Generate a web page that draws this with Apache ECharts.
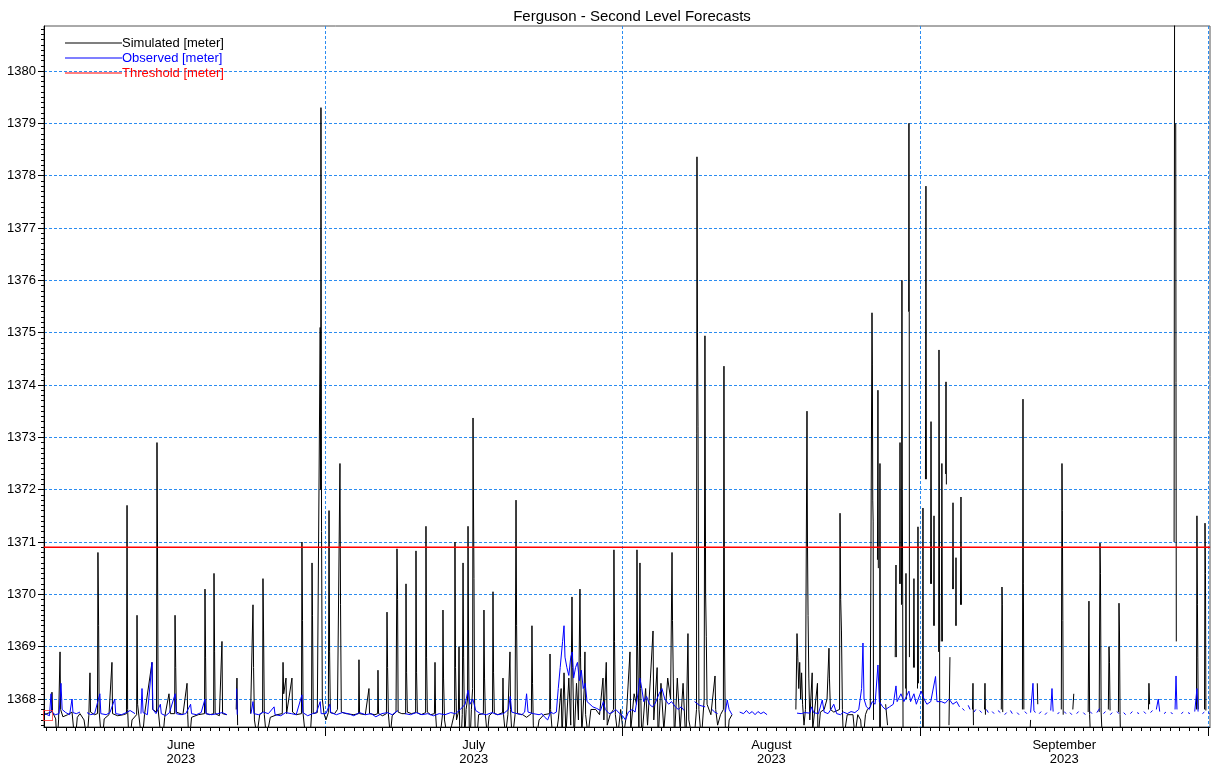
<!DOCTYPE html>
<html>
<head>
<meta charset="utf-8">
<script src="https://cdn.jsdelivr.net/npm/echarts@6/dist/echarts.min.js"></script>
<style>
  html, body { margin: 0; padding: 0; background: #ffffff; }
  #chart { width: 1213px; height: 769px; }
</style>
</head>
<body>
<div id="chart"></div>
<script>
// Time runs in days since 2023-06-01 00:00; levels are in metres.
const chartTitle = 'Ferguson - Second Level Forecasts';
const monthNames = ['June', 'July', 'August', 'September'];
const monthYear = '2023';
const monthStartDays = [0, 30, 61, 92, 122];
const monthMidDays = [15, 45.5, 76.5, 107];
const levelTicks = [1368, 1369, 1370, 1371, 1372, 1373, 1374, 1375, 1376, 1377, 1378, 1379, 1380];
const thresholdLevel = 1370.9;
const thresholdSpan = [0.7, 122.2];

// Simulated second level (forecast traces), null = no forecast
const simulated = [
  [0.55,1367.68],[1.00,1367.72],[1.50,1367.75],[1.56,1368.13],[1.62,1367.75],[1.95,1367.62],[2.08,1367.10],[2.25,1367.60],
  [2.40,1368.90],[2.46,1367.80],[2.70,1367.66],[3.20,1367.70],[3.65,1367.75],[3.96,1367.15],[4.20,1367.65],[4.48,1367.72],
  [4.90,1367.60],[5.21,1367.20],[5.40,1367.68],[5.52,1368.50],[5.58,1367.75],[6.00,1367.70],[6.30,1367.72],[6.35,1370.80],
  [6.42,1369.40],[6.48,1367.75],[6.77,1367.10],[7.00,1367.62],[7.50,1367.70],[7.81,1368.70],[7.87,1367.72],[8.40,1367.68],
  [9.00,1367.70],[9.32,1367.72],[9.38,1371.70],[9.44,1367.80],[9.60,1367.10],[9.90,1367.60],[10.38,1367.70],[10.42,1369.60],
  [10.48,1367.90],[10.94,1367.15],[11.20,1367.70],[11.98,1368.70],[12.05,1367.80],[12.45,1367.75],[12.50,1372.90],[12.55,1371.00],
  [12.62,1367.80],[13.02,1367.05],[13.30,1367.65],[13.75,1368.10],[13.90,1367.72],[14.34,1367.72],[14.38,1369.60],[14.45,1368.60],
  [14.52,1367.75],[15.20,1367.70],[15.63,1368.30],[15.70,1367.70],[15.83,1367.10],[16.10,1367.65],[16.80,1367.70],[17.45,1367.72],
  [17.50,1370.10],[17.56,1368.80],[17.62,1367.72],[18.00,1367.70],[18.40,1367.72],[18.44,1370.40],[18.50,1368.90],[18.56,1367.72],
  [19.00,1367.68],[19.27,1369.10],[19.33,1367.72],[19.75,1367.70],[19.80,null],
  [20.75,1367.80],[20.83,1368.40],[20.90,1367.50],[20.95,null],
  [22.25,1367.72],[22.50,1369.80],[22.56,1368.60],[22.65,1367.60],[22.90,1367.30],[23.20,1367.70],[23.50,1367.75],[23.54,1370.30],
  [23.60,1369.30],[23.68,1367.70],[23.90,1367.25],[24.30,1367.65],[25.00,1367.70],[25.55,1367.72],[25.63,1368.70],[25.70,1368.10],
  [25.94,1368.40],[26.00,1367.72],[26.56,1368.40],[26.62,1367.75],[27.00,1367.70],[27.55,1367.72],[27.60,1371.00],[27.66,1369.50],
  [27.72,1367.72],[27.95,1367.30],[28.20,1366.90],[28.50,1367.40],[28.60,1367.72],[28.65,1370.60],[28.70,1369.60],[28.78,1367.72],
  [29.20,1367.74],[29.40,1367.75],[29.50,1375.10],[29.55,1372.00],[29.58,1379.30],[29.64,1371.20],[29.72,1368.00],[29.90,1367.72],
  [30.10,1367.60],[30.35,1367.74],[30.42,1371.60],[30.48,1368.90],[30.56,1367.74],[31.00,1367.72],[31.30,1367.80],[31.56,1372.50],
  [31.62,1369.80],[31.70,1367.75],[32.20,1367.72],[33.00,1367.70],[33.50,1367.72],[33.54,1368.75],[33.60,1367.72],[34.20,1367.70],
  [34.58,1368.20],[34.64,1367.72],[35.20,1367.70],[35.48,1367.72],[35.52,1368.55],[35.58,1367.72],[36.00,1367.68],[36.40,1367.72],
  [36.46,1369.66],[36.52,1368.60],[36.60,1367.72],[36.80,1367.30],[37.00,1367.68],[37.40,1367.75],[37.50,1370.87],[37.56,1369.90],
  [37.62,1367.75],[38.00,1367.72],[38.40,1367.72],[38.44,1370.20],[38.50,1368.50],[38.58,1367.75],[39.00,1367.72],[39.44,1367.74],
  [39.48,1370.83],[39.54,1368.50],[39.62,1367.74],[40.00,1367.70],[40.48,1367.74],[40.52,1371.30],[40.58,1368.80],[40.66,1367.75],
  [41.00,1367.70],[41.40,1367.72],[41.46,1368.70],[41.52,1367.72],[41.70,1367.20],[42.00,1367.30],[42.24,1367.70],[42.29,1369.70],
  [42.35,1368.40],[42.45,1367.60],[42.80,1367.20],[43.20,1367.50],[43.50,1367.74],[43.54,1371.00],[43.60,1368.60],[43.70,1367.60],
  [43.90,1367.75],[43.96,1369.00],[44.02,1367.50],[44.10,1366.90],[44.30,1367.70],[44.38,1370.60],[44.44,1368.80],[44.55,1367.20],
  [44.70,1367.80],[44.85,1368.00],[44.90,1371.30],[44.96,1369.00],[45.05,1366.90],[45.25,1367.80],[45.38,1368.20],[45.42,1373.37],
  [45.46,1372.00],[45.52,1370.30],[45.58,1368.00],[45.70,1366.90],[46.00,1367.70],[46.50,1367.72],[46.56,1369.70],[46.62,1368.40],
  [46.70,1367.72],[46.90,1367.30],[47.10,1367.68],[47.45,1367.74],[47.50,1370.05],[47.56,1368.50],[47.64,1367.72],[48.00,1367.70],
  [48.50,1367.74],[48.54,1368.40],[48.60,1367.70],[48.80,1367.30],[49.05,1367.70],[49.27,1368.90],[49.33,1367.80],[49.50,1367.20],
  [49.80,1367.70],[49.90,1371.80],[49.96,1369.40],[50.05,1367.72],[50.60,1367.70],[51.00,1367.65],[51.50,1367.72],[51.56,1369.40],
  [51.62,1368.30],[51.70,1367.50],[51.90,1367.10],[52.30,1367.60],[52.80,1367.70],[53.40,1367.72],[53.44,1368.86],[53.50,1367.80],
  [53.70,1367.30],[54.00,1367.20],[54.30,1367.60],[54.60,1368.20],[54.70,1367.20],[54.90,1368.50],[55.10,1367.30],[55.40,1368.40],
  [55.60,1367.50],[55.73,1369.95],[55.80,1368.60],[55.95,1367.20],[56.20,1368.30],[56.40,1367.60],[56.56,1370.10],[56.62,1368.80],
  [56.75,1367.30],[57.00,1368.20],[57.08,1368.90],[57.15,1367.70],[57.40,1367.30],[57.70,1367.80],[58.20,1367.80],[58.60,1367.70],
  [58.96,1368.40],[59.05,1367.60],[59.30,1368.70],[59.40,1367.50],[59.70,1367.70],[60.05,1367.80],[60.10,1370.85],[60.16,1369.10],
  [60.25,1367.70],[60.50,1367.30],[60.80,1367.80],[61.10,1367.30],[61.40,1367.70],[61.77,1368.90],[61.85,1367.40],[62.20,1368.10],
  [62.45,1367.90],[62.50,1370.85],[62.56,1369.00],[62.70,1367.40],[62.81,1370.60],[62.88,1368.20],[63.00,1367.20],[63.40,1368.20],
  [63.60,1367.50],[63.90,1368.40],[64.17,1369.30],[64.25,1367.60],[64.60,1368.60],[64.70,1367.20],[65.00,1368.30],[65.30,1367.40],
  [65.70,1368.40],[66.00,1368.00],[66.15,1370.80],[66.20,1369.50],[66.28,1368.40],[66.40,1367.20],[66.70,1368.40],[67.00,1367.40],
  [67.30,1368.30],[67.60,1367.10],[67.81,1369.25],[67.90,1367.60],[68.40,1367.10],[68.70,1367.80],[68.75,1378.36],[68.80,1375.00],
  [68.86,1373.20],[68.95,1367.80],[69.20,1367.20],[69.50,1368.00],[69.58,1374.94],[69.65,1370.00],[69.72,1369.20],[69.80,1367.90],
  [70.20,1367.70],[70.63,1368.44],[70.70,1367.80],[70.90,1367.50],[71.20,1367.70],[71.50,1367.80],[71.56,1374.36],[71.62,1369.00],
  [71.70,1367.50],[71.80,1366.90],[72.10,1367.60],[72.40,1367.70],[72.45,null],
  [79.05,1367.80],[79.17,1369.25],[79.25,1368.80],[79.35,1368.20],[79.45,1368.70],[79.55,1368.00],[79.65,1368.50],[79.75,1367.90],
  [79.90,1367.50],[80.05,1367.80],[80.21,1373.50],[80.26,1371.00],[80.32,1369.60],[80.40,1368.40],[80.50,1367.60],[80.75,1368.50],
  [80.80,1367.40],[81.30,1368.30],[81.35,1367.20],[81.60,1367.75],[82.00,1367.80],[82.30,1368.00],[82.50,1368.97],[82.55,1368.40],
  [82.65,1367.80],[83.00,1367.75],[83.60,1367.80],[83.65,1371.55],[83.72,1369.90],[83.80,1369.30],[83.90,1367.80],[84.00,1367.20],
  [84.40,1367.70],[85.00,1367.70],[85.20,1367.30],[85.50,1367.70],[85.80,1367.60],[86.00,1367.10],[86.30,1367.70],[86.50,1367.80],
  [86.80,1367.85],[86.98,1375.38],[87.02,1374.40],[87.06,1371.80],[87.10,1371.40],[87.14,1367.60],[87.20,null],
  [87.55,1370.66],[87.60,1373.90],[87.64,1370.50],[87.66,null],
  [87.78,1367.40],[87.81,1372.50],[87.86,1366.90],[87.90,null],
  [88.40,1367.90],[88.60,1367.50],[88.70,null],
  [89.40,1368.80],[89.48,1370.56],[89.52,1368.80],[89.55,null],
  [89.86,1370.20],[89.90,1372.90],[89.93,1370.20],[89.95,null],
  [90.05,1369.80],[90.10,1376.00],[90.14,1372.00],[90.18,1369.80],[90.22,1367.00],[90.30,null],
  [90.48,1368.20],[90.52,1370.40],[90.56,1368.00],[90.60,null],
  [90.80,1375.40],[90.83,1379.00],[90.86,1375.40],[90.88,1368.80],[90.92,null],
  [91.30,1368.60],[91.35,1370.30],[91.40,1368.60],[91.45,null],
  [91.72,1368.20],[91.77,1371.29],[91.82,1368.30],[91.86,null],
  [92.25,1367.00],[92.29,1371.65],[92.33,1367.00],[92.38,null],
  [92.55,1372.20],[92.60,1377.80],[92.65,1372.20],[92.70,null],
  [93.08,1370.20],[93.13,1373.30],[93.18,1370.20],[93.22,null],
  [93.40,1369.40],[93.44,1371.50],[93.48,1369.40],[93.52,null],
  [93.92,1368.90],[93.96,1374.67],[94.00,1372.00],[94.04,1367.00],[94.10,null],
  [94.20,1369.10],[94.26,1372.50],[94.32,1369.10],[94.38,null],
  [94.65,1372.30],[94.69,1374.06],[94.73,1372.10],[94.78,null],
  [95.00,1367.50],[95.10,1368.80],[95.15,null],
  [95.38,1370.10],[95.42,1371.75],[95.46,1370.10],[95.50,null],
  [95.70,1369.40],[95.73,1370.70],[95.76,1369.40],[95.80,null],
  [96.20,1369.80],[96.25,1371.86],[96.30,1369.80],[96.35,null],
  [97.45,1367.80],[97.50,1368.30],[97.55,1367.50],[97.60,null],
  [98.70,1367.80],[98.75,1368.30],[98.80,1367.70],[98.85,null],
  [100.45,1367.80],[100.52,1370.14],[100.56,1369.80],[100.60,1367.75],[100.65,null],
  [102.65,1367.80],[102.71,1373.73],[102.75,1370.20],[102.80,1367.80],[102.85,null],
  [103.40,1367.20],[103.50,1367.60],[103.55,null],
  [104.20,1368.30],[104.25,1367.90],[104.30,null],
  [106.70,1367.80],[106.77,1372.50],[106.81,1371.60],[106.86,1369.50],[106.90,1367.70],[106.95,null],
  [107.90,1367.80],[108.00,1368.10],[108.05,null],
  [109.50,1367.75],[109.58,1369.87],[109.65,1367.70],[109.80,1367.00],[109.90,null],
  [110.65,1367.75],[110.73,1370.98],[110.78,1370.40],[110.85,1367.75],[111.00,1367.10],[111.05,null],
  [111.60,1367.80],[111.67,1369.00],[111.72,1368.70],[111.78,1367.78],[111.85,null],
  [112.65,1367.75],[112.71,1369.83],[112.76,1369.30],[112.82,1367.70],[112.90,1367.00],[112.95,null],
  [115.78,1367.80],[115.83,1368.30],[115.90,1367.90],[115.95,null],
  [118.45,1371.00],[118.50,1381.50],[118.55,null],
  [118.62,1379.00],[118.68,1369.10],[118.72,null],
  [120.78,1367.80],[120.83,1371.50],[120.88,1369.80],[120.92,1368.80],[120.96,1367.80],[121.00,null],
  [121.62,1367.80],[121.67,1371.36],[121.72,1370.40],[121.76,1367.78],[121.80,null]
];

// Observed second level, null = missing record
const observed = [
  [0.83,1367.72],[1.30,1367.68],[1.46,1368.10],[1.55,1367.75],[1.90,1367.70],[2.30,1367.72],[2.50,1368.30],[2.62,1367.80],
  [3.00,1367.74],[3.40,1367.70],[3.65,1368.00],[3.75,1367.74],[4.10,1367.72],[4.48,1367.75],[4.55,null],
  [5.21,1367.74],[5.60,1367.70],[6.00,1367.72],[6.55,1368.10],[6.65,1367.72],[7.20,1367.70],[7.60,1367.74],[8.10,1368.00],
  [8.20,1367.72],[8.80,1367.70],[9.30,1367.74],[9.70,1367.78],[10.21,1367.72],[10.30,null],
  [10.83,1367.72],[10.94,1368.20],[11.05,1367.74],[11.50,1367.70],[11.98,1368.70],[12.08,1367.80],[12.40,1367.72],[12.85,1367.90],
  [12.95,1367.72],[13.40,1367.68],[13.80,1367.74],[14.40,1368.10],[14.50,1367.72],[15.00,1367.70],[15.50,1367.72],[16.00,1367.90],
  [16.10,1367.72],[16.60,1367.70],[17.10,1367.74],[17.50,1368.00],[17.60,1367.72],[18.20,1367.70],[18.80,1367.72],[19.30,1367.74],
  [19.79,1367.70],[19.85,null],
  [20.80,1368.20],[20.86,1367.70],[20.90,null],
  [22.29,1367.72],[22.50,1367.95],[22.60,1367.72],[23.10,1367.70],[23.60,1367.75],[24.10,1367.72],[24.70,1367.85],[24.80,1367.70],
  [25.40,1367.68],[25.90,1367.74],[26.50,1367.72],[27.00,1367.70],[27.60,1368.08],[27.70,1367.74],[28.20,1367.68],[28.70,1367.72],
  [29.10,1367.74],[29.50,1367.95],[29.60,1367.72],[30.10,1367.72],[30.50,1367.90],[30.60,1367.74],[31.20,1367.70],[31.80,1367.74],
  [32.40,1367.72],[33.00,1367.68],[33.60,1367.74],[34.20,1367.70],[34.80,1367.72],[35.30,1367.66],[35.90,1367.72],[36.50,1367.74],
  [37.00,1367.70],[37.60,1367.78],[37.65,null],
  [38.33,1367.72],[38.90,1367.70],[39.50,1367.74],[40.10,1367.70],[40.70,1367.72],[41.30,1367.68],[41.90,1367.72],[42.50,1367.70],
  [43.10,1367.74],[43.60,1367.72],[44.10,1367.80],[44.60,1367.90],[44.90,1368.17],[45.10,1367.90],[45.40,1368.00],[45.70,1367.78],
  [46.20,1367.72],[46.80,1367.70],[47.40,1367.74],[48.00,1367.70],[48.60,1367.72],[49.10,1367.80],[49.30,1368.05],[49.45,1367.75],
  [50.00,1367.72],[50.50,1367.70],[50.80,1367.75],[51.00,1368.10],[51.15,1367.75],[51.70,1367.72],[52.30,1367.70],[52.60,1367.72],
  [52.90,1367.65],[53.20,1367.60],[53.50,1367.75],[53.80,1367.72],[54.10,1367.75],[54.30,1368.20],[54.50,1368.60],[54.75,1369.10],
  [54.90,1369.40],[55.00,1368.80],[55.20,1368.60],[55.40,1368.45],[55.60,1368.80],[55.75,1368.90],[55.90,1368.40],[56.10,1368.60],
  [56.30,1368.70],[56.50,1368.35],[56.70,1368.55],[56.90,1368.20],[57.10,1368.30],[57.30,1367.95],[57.60,1367.90],[57.90,1367.85],
  [58.30,1367.82],[58.70,1367.78],[59.00,1367.95],[59.20,1367.80],[59.60,1367.72],[60.00,1367.75],[60.30,1367.80],[60.70,1367.72],
  [61.00,1367.68],[61.30,1367.60],[61.60,1367.75],[62.00,1367.80],[62.30,1367.75],[62.60,1368.10],[62.80,1368.40],[63.00,1368.20],
  [63.20,1367.95],[63.50,1368.05],[63.80,1367.90],[64.10,1367.85],[64.40,1367.92],[64.80,1368.10],[65.10,1368.20],[65.40,1368.00],
  [65.80,1367.90],[66.10,1367.95],[66.50,1367.85],[66.80,1367.80],[67.10,1367.85],[67.40,1367.78],[67.55,null],
  [68.50,1367.95],[69.00,1367.88],[69.60,1367.85],[69.65,null],
  [70.30,1367.80],[70.60,1367.75],[70.90,1367.72],[70.95,null],
  [71.70,1367.75],[71.90,1367.98],[72.10,1367.80],[72.40,1367.70],[72.45,null],
  [73.20,1367.75],[73.60,1367.72],[73.90,1367.78],[74.20,1367.72],[74.50,1367.76],[74.80,1367.70],[75.10,1367.76],[75.40,1367.72],
  [75.70,1367.75],[76.05,1367.70],[76.10,null],
  [79.17,1367.73],[79.60,1367.72],[80.00,1367.74],[80.50,1367.73],[80.70,1367.85],[80.90,1367.74],[81.40,1367.72],[81.80,1367.98],
  [82.00,1367.75],[82.40,1367.72],[82.70,1367.80],[83.00,1367.90],[83.30,1367.72],[83.70,1367.70],[84.00,1367.75],[84.40,1367.72],
  [84.80,1367.76],[85.20,1367.74],[85.60,1367.80],[85.90,1368.20],[86.04,1369.07],[86.15,1368.00],[86.40,1367.85],[86.70,1367.80],
  [87.00,1367.95],[87.30,1367.90],[87.60,1368.65],[87.75,1367.95],[88.10,1367.85],[88.40,1367.80],[88.80,1367.85],[89.20,1367.90],
  [89.48,1368.25],[89.60,1367.95],[90.00,1368.10],[90.30,1367.95],[90.83,1368.15],[91.00,1367.95],[91.35,1368.10],[91.60,1367.90],
  [92.10,1368.15],[92.40,1368.00],[92.70,1367.90],[93.10,1367.95],[93.60,1368.43],[93.75,1367.95],[94.20,1367.95],[94.60,1367.92],
  [95.00,1368.00],[95.40,1367.90],[95.80,1367.95],[96.10,1367.85],[96.15,null],
  [96.40,1367.82],[96.60,1367.78],[96.70,null],[97.00,1367.88],[97.20,1367.80],[97.30,null],
  [97.60,1367.75],[97.80,1367.80],[97.90,null],[98.20,1367.78],[98.40,1367.74],[98.50,null],
  [98.90,1367.80],[99.10,1367.74],[99.20,null],[99.50,1367.76],[99.70,1367.72],[99.80,null],
  [100.10,1367.78],[100.35,1367.74],[100.40,null],[100.80,1367.70],[101.00,1367.74],[101.10,null],
  [101.40,1367.78],[101.60,1367.72],[101.70,null],[102.10,1367.74],[102.30,1367.70],[102.40,null],
  [102.90,1367.76],[103.10,1367.72],[103.20,null],[103.50,1367.74],[103.75,1368.30],[103.85,1367.78],[104.00,1367.74],[104.10,null],
  [104.40,1367.72],[104.60,1367.76],[104.70,null],[105.00,1367.70],[105.20,1367.74],[105.30,null],
  [105.60,1367.78],[105.73,1368.20],[105.85,1367.76],[105.90,null],[106.30,1367.72],[106.50,1367.74],[106.60,null],
  [107.00,1367.76],[107.20,1367.72],[107.30,null],[107.60,1367.74],[107.80,1367.70],[107.90,null],
  [108.30,1367.72],[108.50,1367.76],[108.60,null],[109.00,1367.74],[109.20,1367.70],[109.30,null],
  [109.70,1367.76],[109.90,1367.72],[110.00,null],[110.40,1367.74],[110.70,1367.82],[110.80,null],
  [111.10,1367.72],[111.30,1367.76],[111.40,null],[111.80,1367.70],[112.00,1367.74],[112.10,null],
  [112.50,1367.76],[112.70,1367.72],[112.80,null],[113.20,1367.74],[113.40,1367.70],[113.50,null],
  [113.90,1367.72],[114.10,1367.76],[114.20,null],[114.60,1367.74],[114.80,1367.72],[114.90,null],
  [115.30,1367.76],[115.50,1367.72],[115.60,null],[116.00,1367.74],[116.20,1367.78],[116.30,null],
  [116.60,1367.80],[116.80,1368.00],[116.95,1367.76],[117.10,null],[117.40,1367.72],[117.60,1367.75],[117.70,null],
  [118.10,1367.74],[118.30,1367.72],[118.40,null],[118.55,1367.80],[118.65,1368.44],[118.75,1367.80],[118.90,null],
  [119.20,1367.72],[119.40,1367.75],[119.50,null],[119.90,1367.74],[120.10,1367.72],[120.20,null],
  [120.60,1367.76],[120.83,1368.20],[120.95,1367.76],[121.10,null],[121.40,1367.72],[121.60,1367.75],[121.70,null],
  [122.00,1367.74],[122.15,1367.72]
];

// Start-of-record marker
const startMarker = [[1.15, 1367.685]];

const dailyTicks = [];
for (let d = 1; d <= 122; d++) dailyTicks.push(d);
const minorLevelTicks = [];
for (let k = 13675; k <= 13808; k++) minorLevelTicks.push(k / 10);

const FONT = '"Liberation Sans", Arial, sans-serif';
const GRID_BLUE = '#2b8cf0';

const chart = echarts.init(document.getElementById('chart'), null, { renderer: 'canvas' });

chart.setOption({
  animation: false,
  backgroundColor: '#ffffff',
  title: {
    text: chartTitle,
    left: 627,
    top: 4,
    textAlign: 'center',
    textStyle: { fontFamily: FONT, fontSize: 15, fontWeight: 'normal', color: '#000' }
  },
  legend: {
    orient: 'vertical',
    left: 60,
    top: 31,
    itemWidth: 57,
    itemHeight: 1,
    itemGap: 1,
    icon: 'rect',
    selectedMode: false,
    textStyle: { fontFamily: FONT, fontSize: 13, lineHeight: 14, padding: [0, 0, 0, -5] },
    data: [
      { name: 'Simulated [meter]', textStyle: { color: '#000000' } },
      { name: 'Observed [meter]', textStyle: { color: '#0000ff' } },
      { name: 'Threshold [meter]', textStyle: { color: '#ff0000' } }
    ]
  },
  grid: {
    left: 44, right: 3, top: 26, bottom: 42,
    show: true, borderColor: '#555', borderWidth: 1, backgroundColor: 'transparent'
  },
  xAxis: [
    {
      type: 'value',
      min: 0.73,
      max: 122.19,
      axisLine: { show: true, lineStyle: { color: '#000', width: 1 } },
      axisTick: { show: true, customValues: monthStartDays, length: 9, lineStyle: { color: '#000' } },
      axisLabel: {
        customValues: monthMidDays,
        margin: 11,
        fontFamily: FONT, fontSize: 13, lineHeight: 14, color: '#000',
        formatter: v => monthNames[monthMidDays.indexOf(v)] + '\n' + monthYear
      },
      splitLine: { show: true, lineStyle: { color: GRID_BLUE, type: [3, 2], width: 1 } }
    },
    {
      type: 'value',
      min: 0.73,
      max: 122.19,
      position: 'bottom',
      axisLine: { show: false },
      axisTick: { show: true, customValues: dailyTicks, length: 4, lineStyle: { color: '#000' } },
      axisLabel: { show: false },
      splitLine: { show: false }
    }
  ],
  yAxis: [
    {
      type: 'value',
      min: 1367.465,
      max: 1380.86,
      axisLine: { show: true, lineStyle: { color: '#000', width: 1 } },
      axisTick: { show: true, customValues: levelTicks, length: 6, lineStyle: { color: '#000' } },
      axisLabel: {
        customValues: levelTicks,
        margin: 8,
        fontFamily: FONT, fontSize: 13, color: '#000',
        formatter: v => String(v)
      },
      splitLine: { show: true, lineStyle: { color: GRID_BLUE, type: [3, 2], width: 1 } }
    },
    {
      type: 'value',
      min: 1367.465,
      max: 1380.86,
      position: 'left',
      axisLine: { show: false },
      axisTick: { show: true, customValues: minorLevelTicks, length: 3, lineStyle: { color: '#000' } },
      axisLabel: { show: false },
      splitLine: { show: false }
    }
  ],
  series: [
    {
      name: 'Simulated [meter]',
      type: 'line',
      data: simulated,
      showSymbol: false,
      symbol: 'none',
      connectNulls: false,
      lineStyle: { color: '#000000', width: 1 },
      itemStyle: { color: '#000000' },
      z: 2
    },
    {
      name: 'Observed [meter]',
      type: 'line',
      data: observed,
      showSymbol: false,
      symbol: 'none',
      connectNulls: false,
      lineStyle: { color: '#0000ff', width: 1 },
      itemStyle: { color: '#0000ff' },
      z: 3
    },
    {
      name: 'Threshold [meter]',
      type: 'line',
      data: thresholdSpan.map(d => [d, thresholdLevel]),
      showSymbol: false,
      symbol: 'none',
      lineStyle: { color: '#ff0000', width: 1.3 },
      itemStyle: { color: '#ff0000' },
      z: 4
    },
    {
      name: 'start',
      type: 'scatter',
      data: startMarker,
      symbol: 'rect',
      symbolSize: [9, 10],
      itemStyle: { color: 'rgba(0,0,0,0)', borderColor: '#ff3030', borderWidth: 1 },
      z: 5,
      silent: true
    }
  ]
});
</script>
</body>
</html>
